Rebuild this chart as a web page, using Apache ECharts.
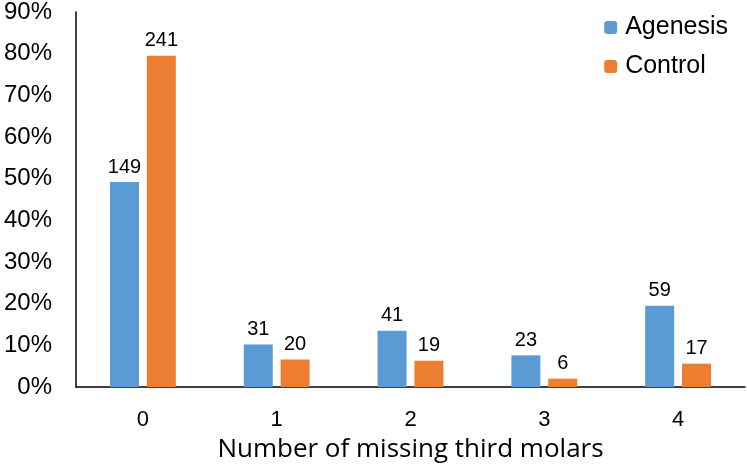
<!DOCTYPE html>
<html><head><meta charset="utf-8">
<script src="https://cdn.jsdelivr.net/npm/echarts@6/dist/echarts.min.js"></script>
<style>html,body{margin:0;padding:0;background:#fff}#c{width:747px;height:469px}</style>
</head><body><div id="c"></div>
<script>
const categories = ['0','1','2','3','4'];
const agenesisPct = [49.2, 10.2, 13.5, 7.6, 19.5];
const controlPct = [79.5, 6.6, 6.3, 2.0, 5.6];
const agenesisCount = [149, 31, 41, 23, 59];
const controlCount = [241, 20, 19, 6, 17];
const yTicks = [0,10,20,30,40,50,60,70,80,90];

const chart = echarts.init(document.getElementById('c'));
const lbl = (counts) => ({
  show: true, position: 'top', distance: 5,
  fontFamily: 'Liberation Sans, Arial', fontSize: 20, color: '#000',
  formatter: p => counts[p.dataIndex]
});
chart.setOption({
  animation: false,
  grid: {left: 76, right: 2, top: 12, bottom: 82, containLabel: false, outerBoundsMode: 'none'},
  legend: {
    orient: 'vertical', right: 14, top: 10, itemWidth: 13, itemHeight: 13, itemGap: 14,
    textStyle: {fontFamily: 'Liberation Sans, Arial', fontSize: 25, color: '#000', padding: [0,0,0,3]},
    data: ['Agenesis','Control']
  },
  xAxis: {
    type: 'category', data: categories,
    axisLine: {lineStyle: {color: '#000', width: 1.5}},
    axisTick: {show: false},
    axisLabel: {fontFamily: 'Liberation Sans, Arial', fontSize: 22, color: '#000', margin: 22},
    name: 'Number of missing third molars', nameLocation: 'middle', nameGap: 50,
    nameTextStyle: {fontFamily: 'Open Sans', fontSize: 26, color: '#000'}
  },
  yAxis: {
    type: 'value', position: 'left', min: yTicks[0], max: yTicks[yTicks.length-1], interval: 10,
    axisLine: {show: true, onZero: false, lineStyle: {color: '#000', width: 1.5, type: 'solid'}},
    axisTick: {show: false},
    splitLine: {show: false},
    axisLabel: {fontFamily: 'Liberation Sans, Arial', fontSize: 24, color: '#000', margin: 24,
      formatter: v => v + '%'},
  },
  series: [
    {name: 'Agenesis', type: 'bar', data: agenesisPct, barWidth: 29, barGap: '27%',
     itemStyle: {color: '#5B9BD5'}, label: lbl(agenesisCount)},
    {name: 'Control', type: 'bar', data: controlPct, barWidth: 29,
     itemStyle: {color: '#ED7D31'}, label: lbl(controlCount)}
  ]
});
</script></body></html>
